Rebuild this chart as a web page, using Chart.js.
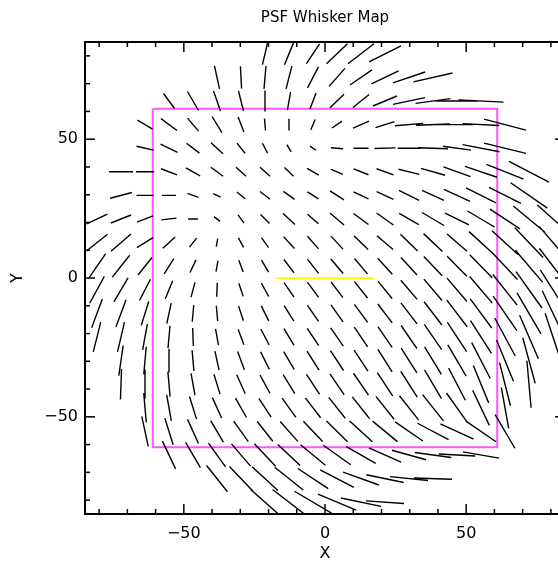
<!DOCTYPE html>
<html>
<head>
<meta charset="utf-8">
<script src="https://cdn.jsdelivr.net/npm/chart.js@4"></script>
<style>
  html, body { margin: 0; padding: 0; background: #fff; overflow: hidden; }
</style>
</head>
<body>
<canvas id="whiskerChart" width="572" height="567"></canvas>
<script>
const N = null;

// grid centres of the whiskers (data units)
const gridX = [-80.75, -72.25, -63.75, -55.25, -46.75, -38.25, -29.75, -21.25, -12.75, -4.25,
               4.25, 12.75, 21.25, 29.75, 38.25, 46.75, 55.25, 63.75, 72.25, 80.75];
const gridY = [80.75, 72.25, 63.75, 55.25, 46.75, 38.25, 29.75, 21.25, 12.75, 4.25,
               -4.25, -12.75, -21.25, -29.75, -38.25, -46.75, -55.25, -63.75, -72.25, -80.75];

// whisker position angle in degrees, one row per gridY
const whiskerAngle = [
  [N,N,N,N,N,N,N,77,68,57,44,38,27,N,N,N,N,N,N,N],
  [N,N,N,N,N,-78,-87,85,76,63,49,35,26,19,13,N,N,N,N,N],
  [N,N,N,-54,-60,-71,-76,-90,80,70,45,39,23,12,8,0,-3,N,N,N],
  [N,N,-31,-37,-50,-59,-69,-85,90,68,35,24,18,5,2,0,-3,-15,N,N],
  [N,N,-13,-26,-38,-43,-52,-63,-60,-34,-5,0,2,0,-2,-8,-11,-14,N,N],
  [N,0,0,-21,-30,-37,-42,-42,-45,-30,-23,-22,-20,-14,-16,-20,-19,-22,-28,N],
  [N,15,0,0,-20,-25,-40,-38,-36,-33,-33,-25,-25,-27,-25,-25,-27,-27,-35,N],
  [26,22,21,7,0,-40,-54,-45,-43,-41,-41,-37,-36,-30,-31,-27,-31,-34,-40,-42],
  [39,41,32,43,52,80,-62,-55,-48,-49,-48,-45,-41,-45,-44,-41,-43,-43,-47,-50],
  [56,52,52,58,65,80,-70,-60,-53,-52,-50,-50,-48,-48,-47,-46,-46,-47,-50,-53],
  [62,60,63,68,75,88,-72,-62,-56,-54,-53,-52,-51,-50,-50,-50,-50,-52,-55,-58],
  [70,70,73,78,85,-85,-72,-64,-58,-56,-55,-54,-53,-53,-53,-53,-54,-56,-60,-65],
  [76,77,80,85,-88,-80,-70,-63,-59,-57,-56,-56,-56,-56,-56,-57,-58,-62,-67,-72],
  [N,82,85,90,-85,-78,-70,-64,-60,-58,-57,-57,-58,-58,-59,-60,-63,-68,-75,N],
  [N,88,90,-85,-80,-73,-66,-62,-59,-57,-56,-56,-57,-58,-60,-63,-68,-76,-85,N],
  [N,N,-85,-80,-73,-66,-61,-57,-55,-53,-52,-52,-52,-52,-52,-55,-65,-80,N,N],
  [N,N,-78,-73,-66,-60,-55,-52,-49,-47,-45,-43,-40,-35,-28,-25,-35,-60,N,N],
  [N,N,N,-65,-60,-55,-50,-47,-44,-40,-36,-30,-24,-16,-8,-3,-10,N,N,N],
  [N,N,N,N,N,-52,-47,-43,-39,-34,-28,-20,-12,-6,-2,N,N,N,N,N],
  [N,N,N,N,N,N,N,-42,-38,-31,-23,-12,-4,N,N,N,N,N,N,N]
];

// whisker length in data units, same layout
const whiskerLength = [
  [N,N,N,N,N,N,N,8,8.5,8.5,10.3,11.7,12.7,N,N,N,N,N,N,N],
  [N,N,N,N,N,8.5,8,8.3,8.5,8.5,8.6,9.5,10.7,12,14.2,N,N,N,N,N],
  [N,N,N,6.7,7.9,7.6,7.4,7.5,6.6,6.2,7,7.4,9.2,11.6,12.5,15,16,N,N,N],
  [N,N,6.2,7.1,6.1,6.8,5.8,4.3,4.3,4,4.3,6.2,7.1,10,12,12,13,15.4,N,N],
  [N,N,6.2,6.7,5.8,5.8,4.6,4,3,2.6,4.3,5.3,7.5,8,10.6,10,13.3,15.3,N,N],
  [N,8.5,6.4,6.1,5.8,5.4,4.8,4.8,4.5,4.8,4.6,5.7,6.4,7.6,8.9,10.2,12,14.2,16,N],
  [N,8,6,5,4.1,2.9,3.8,4.5,4.9,4.6,5.9,5.9,6.6,8,8.6,10.2,11.9,12.7,15.9,N],
  [8.2,7.7,6.1,5.3,3.5,2.7,3.6,4.5,5.8,5.2,6.6,6.6,7.4,8,9.1,9.5,11.2,12.8,14.5,15],
  [9.6,9.4,6.7,5.9,4.1,2.9,3.9,4.4,5.8,6,6.3,7.1,7.6,8.6,9.3,9.4,11.6,12.6,14.7,15],
  [11,10,8,6.5,5,4,4.5,5,6,6.5,6.8,7.2,7.8,8.5,9.5,10,11.5,13,15,16],
  [11,10,8.5,7,5.5,5,5,5.5,6.3,6.8,7,7.5,8,9,10,11,12.5,14,16,17],
  [11,10.5,9,7.5,6,5.5,5.5,6,6.5,7,7.5,8,8.5,9.5,10.5,12,13,15,17,18],
  [11,11,9.5,8,6.5,6,6,6.5,7,7.5,8,8.5,9,10,11,12.5,14,15.5,17,18],
  [N,11,10,8.5,7.5,7,7,7,7.5,8,8.5,9,9.5,10.5,11.5,13,14.5,16,17,N],
  [N,11,10.5,9,8,7.5,7.5,7.5,8,8.5,9,9.5,10,11,12,13,14.5,16,17,N],
  [N,N,10.5,9.5,8.5,8,8,8,8.5,9,9.5,10,10.5,11,12,13,14,15,N,N],
  [N,N,11,10,9.5,9,9,9,9.5,10,10.5,11,11.5,12,12.5,13,13,14,N,N],
  [N,N,N,11,10.5,10.5,10.5,11,11,11.5,12,12,12.5,12.5,13,13,13,N,N,N],
  [N,N,N,N,N,12,12,12.5,13,13,13.5,13.5,13.5,13.5,13.5,N,N,N,N,N],
  [N,N,N,N,N,N,N,13.4,14.8,15.3,14.7,14.5,13.5,N,N,N,N,N,N,N]
];

// magenta detector outline and yellow reference bar
const boxX = [-61, 61, 61, -61, -61];
const boxY = [61, 61, -61, -61, 61];
const barX = [-17.2, 17.2];
const barY = [0, 0];

// axis ticks
const tickValues = [-80, -70, -60, -50, -40, -30, -20, -10, 0, 10, 20, 30, 40, 50, 60, 70, 80];
const labelValues = [-50, 0, 50];

const whiskerPoints = [];
gridY.forEach((cy, j) => {
  gridX.forEach((cx, i) => {
    const a = whiskerAngle[j][i];
    const l = whiskerLength[j][i];
    if (a === null || l === null) return;
    const dx = Math.cos(a * Math.PI / 180) * l / 2;
    const dy = Math.sin(a * Math.PI / 180) * l / 2;
    whiskerPoints.push({ x: cx - dx, y: cy - dy }, { x: cx + dx, y: cy + dy }, { x: cx, y: null });
  });
});

const boxPoints = boxX.map((x, i) => ({ x, y: boxY[i] }));
const barPoints = barX.map((x, i) => ({ x, y: barY[i] }));

// IDL style frame with inward ticks on all four sides
const frameTicks = {
  id: "frameTicks",
  afterDatasetsDraw(chart) {
    const { ctx, chartArea: a, scales } = chart;
    ctx.save();
    ctx.strokeStyle = "#000";
    ctx.lineWidth = 1.5;
    const seg = (x1, y1, x2, y2) => {
      ctx.beginPath();
      ctx.moveTo(x1, y1);
      ctx.lineTo(x2, y2);
      ctx.stroke();
    };
    tickValues.forEach((v) => {
      const len = labelValues.includes(v) ? 10 : 5;
      const px = scales.x.getPixelForValue(v);
      const py = scales.y.getPixelForValue(v);
      seg(px, a.bottom, px, a.bottom - len);
      seg(px, a.top, px, a.top + len);
      seg(a.left, py, a.left + len, py);
      seg(a.right, py, a.right - len, py);
    });
    ctx.lineWidth = 2;
    ctx.strokeRect(a.left, a.top, a.right - a.left, a.bottom - a.top);
    ctx.restore();
  },
};

const fontFamily = "'DejaVu Sans', sans-serif";

new Chart(document.getElementById("whiskerChart"), {
  type: "line",
  data: {
    datasets: [
      {
        label: "whiskers",
        data: whiskerPoints,
        borderColor: "#000",
        borderWidth: 1.4,
        pointRadius: 0,
        spanGaps: false,
        tension: 0,
      },
      {
        label: "detector",
        data: boxPoints,
        borderColor: "#ff55ff",
        borderWidth: 2,
        pointRadius: 0,
        tension: 0,
      },
      {
        label: "scale",
        data: barPoints,
        borderColor: "#ffff00",
        borderWidth: 2,
        pointRadius: 0,
        tension: 0,
      },
    ],
  },
  options: {
    responsive: false,
    animation: false,
    events: [],
    layout: { padding: { left: 0, right: 7, top: 0, bottom: 0 } },
    plugins: {
      legend: { display: false },
      tooltip: { enabled: false },
      title: {
        display: true,
        text: "PSF Whisker Map",
        color: "#000",
        fullSize: false,
        font: { family: fontFamily, size: 15, weight: "normal" },
        padding: { top: 9, bottom: 15 },
      },
    },
    scales: {
      x: {
        type: "linear",
        min: -85,
        max: 85,
        grid: { display: false, drawTicks: false },
        border: { display: false },
        afterBuildTicks: (s) => { s.ticks = labelValues.map((v) => ({ value: v })); },
        afterFit: (s) => { s.height = 53; },
        ticks: {
          color: "#000",
          padding: 10,
          maxRotation: 0,
          font: { family: fontFamily, size: 16 },
          callback: (v) => String(v).replace("-", "\u2212"),
        },
        title: {
          display: true,
          text: "X",
          color: "#000",
          font: { family: fontFamily, size: 16 },
          padding: { top: 0, bottom: 4 },
        },
      },
      y: {
        type: "linear",
        min: -85,
        max: 85,
        grid: { display: false, drawTicks: false },
        border: { display: false },
        afterBuildTicks: (s) => { s.ticks = labelValues.map((v) => ({ value: v })); },
        afterFit: (s) => { s.width = 85; },
        ticks: {
          color: "#000",
          padding: 7,
          font: { family: fontFamily, size: 16 },
          callback: (v) => String(v).replace("-", "\u2212"),
        },
        title: {
          display: true,
          text: "Y",
          color: "#000",
          font: { family: fontFamily, size: 16 },
          padding: { top: 8, bottom: 0 },
        },
      },
    },
  },
  plugins: [frameTicks],
});
</script>
</body>
</html>
